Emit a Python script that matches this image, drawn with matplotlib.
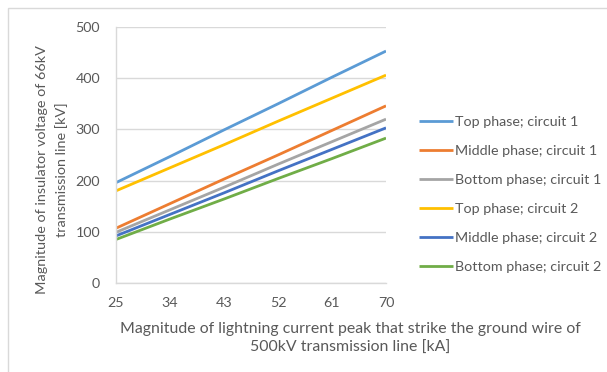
import matplotlib.pyplot as plt
from matplotlib.patches import Rectangle

# Lightning current peak on the 500kV ground wire [kA]
currents = [25, 34, 43, 52, 61, 70]

# Insulator voltage of the 66kV line [kV]
top_c1 = [196, 247, 299, 350, 402, 453]
middle_c1 = [107, 155, 203, 250, 298, 346]
bottom_c1 = [99, 143, 187, 232, 276, 320]
top_c2 = [180, 225, 270, 316, 361, 406]
middle_c2 = [92, 134, 176, 219, 261, 303]
bottom_c2 = [85, 125, 164, 204, 243, 283]

series = [
    ('Top phase; circuit 1', top_c1, '#5B9BD5'),
    ('Middle phase; circuit 1', middle_c1, '#ED7D31'),
    ('Bottom phase; circuit 1', bottom_c1, '#A5A5A5'),
    ('Top phase; circuit 2', top_c2, '#FFC000'),
    ('Middle phase; circuit 2', middle_c2, '#4472C4'),
    ('Bottom phase; circuit 2', bottom_c2, '#70AD47'),
]

plt.rcParams['font.family'] = ['Lato', 'DejaVu Sans']
text_color = '#595959'
grid_color = '#D9D9D9'
small = 10.3

W, H = 607, 372
fig = plt.figure(figsize=(W / 100, H / 100), dpi=100)
ax = fig.add_axes([116 / W, 1 - 283 / H, (386 - 116) / W, (283 - 27) / H])

for label, values, color in series:
    ax.plot(currents, values, color=color, linewidth=2.0, label=label,
            solid_capstyle='butt')

ax.set_xlim(25, 70)
ax.set_ylim(0, 500)
ax.set_xticks(currents)
ax.set_yticks(range(0, 501, 100))
ax.tick_params(length=0, labelsize=small, colors=text_color)
ax.tick_params(axis='y', pad=11.5)
ax.tick_params(axis='x', pad=10)
ax.grid(axis='y', color=grid_color, linewidth=1.0)
ax.set_axisbelow(True)
for side in ['top', 'right']:
    ax.spines[side].set_visible(False)
for side in ['left', 'bottom']:
    ax.spines[side].set_color(grid_color)
    ax.spines[side].set_linewidth(1.0)

# axis titles
fig.text(350 / W, 1 - 338.5 / H,
         'Magnitude of lightning current peak that strike the ground wire of\n'
         '500kV transmission line [kA]',
         ha='center', va='center', fontsize=11.4, color=text_color,
         linespacing=1.45)
fig.text(52.5 / W, 1 - 170 / H,
         'Magnitude of insulator voltage of 66kV\ntransmission line [kV]',
         ha='center', va='center', rotation=90, fontsize=10.4,
         color=text_color, linespacing=1.65)

leg = ax.legend(loc='center left', bbox_to_anchor=(413 / W, 1 - 194.5 / H),
                bbox_transform=fig.transFigure, frameon=False, fontsize=small,
                handlelength=2.4, handletextpad=0.15, labelspacing=1.2,
                borderaxespad=0)
for t in leg.get_texts():
    t.set_color(text_color)

# chart area border
fig.patches.append(Rectangle((8 / W, -0.1), 1.2, 1 - 8 / H + 0.1,
                             transform=fig.transFigure, fill=False,
                             edgecolor=grid_color, linewidth=1.0))

fig.savefig('out.png', dpi=100, facecolor='white')
